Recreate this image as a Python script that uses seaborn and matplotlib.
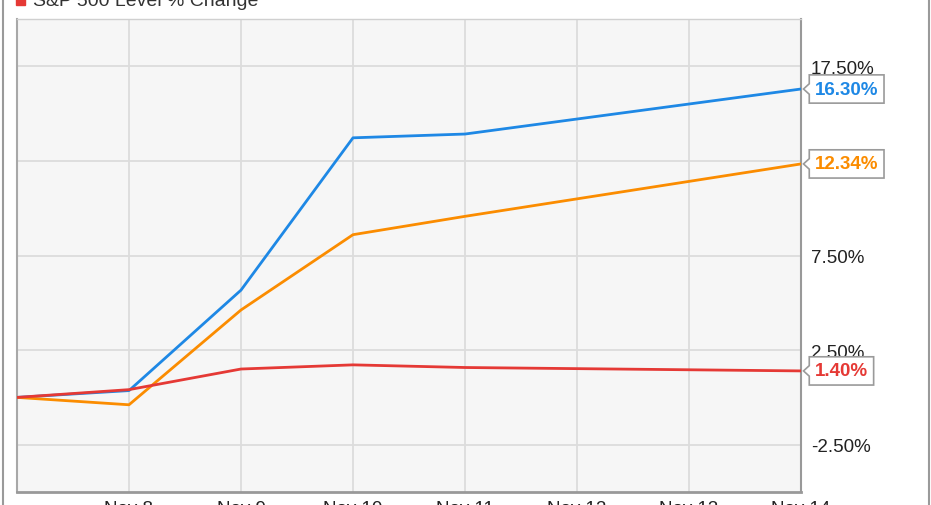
import numpy as np
import pandas as pd
import matplotlib
matplotlib.use("Agg")
import matplotlib.pyplot as plt
import matplotlib.dates as mdates
from matplotlib.path import Path
from matplotlib.patches import Rectangle
from matplotlib.lines import Line2D
import seaborn as sns

# ===== data (trading days only, weekend is interpolated) =====
dates = ["2016-11-07", "2016-11-08", "2016-11-09", "2016-11-10", "2016-11-11", "2016-11-14"]
series_names = ["Stock A Price % Change", "Stock B Price % Change", "S&P 500 Level % Change"]
blue_vals = [0.0, 0.36, 5.67, 13.72, 13.92, 16.30]
orange_vals = [0.0, -0.39, 4.62, 8.60, 9.57, 12.34]
red_vals = [0.0, 0.41, 1.50, 1.72, 1.58, 1.40]
colors = ["#1e88e5", "#fb8c00", "#e53935"]

yticks = [-2.5, 7.5, 2.5, 17.5]
ygrid = [-2.5, 2.5, 7.5, 12.5, 17.5]
xtick_days = pd.date_range("2016-11-08", "2016-11-14", freq="D")

df = pd.DataFrame({
    "date": pd.to_datetime(dates * 3),
    "value": blue_vals + orange_vals + red_vals,
    "series": np.repeat(series_names, len(dates)),
})

sns.set_style("white")
plt.rcParams["font.family"] = ["Liberation Sans", "DejaVu Sans"]

fig = plt.figure(figsize=(9.31, 5.06), dpi=100)
ax = fig.add_axes([17 / 931, 1 - 493 / 506, 784 / 931, 473 / 506])
ax.set_facecolor("#f6f6f6")

sns.lineplot(data=df, x="date", y="value", hue="series", palette=colors,
             linewidth=2, legend=False, ax=ax, zorder=3)

ax.set_xlim(pd.Timestamp("2016-11-07"), pd.Timestamp("2016-11-14"))
ax.set_ylim(-5, 20)

# grid
for d in pd.date_range("2016-11-07", "2016-11-14", freq="D"):
    ax.axvline(d, color="#dcdcdc", lw=1.3, zorder=1)
for g in ygrid:
    ax.axhline(g, color="#dcdcdc", lw=1.3, zorder=1)

ax.set_xticks(xtick_days)
ax.xaxis.set_major_formatter(mdates.DateFormatter("%b %-d"))
ax.tick_params(axis="x", length=0, pad=6, labelsize=13.5, labelcolor="#222222")

ax.yaxis.tick_right()
ax.set_yticks(yticks)
ax.set_yticklabels([f"{v:.2f}%" for v in yticks])
ax.tick_params(axis="y", length=0, pad=7, labelsize=13.5, labelcolor="#222222")
ax.set_xlabel("")
ax.set_ylabel("")

ax.spines["top"].set_color("#d0d0d0")
ax.spines["top"].set_linewidth(1)
ax.spines["left"].set_color("#a8a8a8")
ax.spines["left"].set_linewidth(1.5)
ax.spines["bottom"].set_color("#999999")
ax.spines["bottom"].set_linewidth(2)
ax.spines["right"].set_color("#999999")
ax.spines["right"].set_linewidth(1.5)


def tag_box(x0, y0, width, height, mutation_size):
    pad = 0.3 * mutation_size
    x0, y0 = x0 - pad, y0 - pad
    x1, y1 = x0 + width + 2 * pad, y0 + height + 2 * pad
    cy = (y0 + y1) / 2
    n = 0.28 * mutation_size
    verts = [(x0, y0), (x1, y0), (x1, y1), (x0, y1), (x0, cy + n),
             (x0 - n * 1.1, cy), (x0, cy - n), (x0, y0)]
    return Path(verts, closed=True)


last_date = pd.Timestamp(dates[-1])
for vals, c in zip([blue_vals, orange_vals, red_vals], colors):
    ax.annotate(f"{vals[-1]:.2f}%", xy=(last_date, vals[-1]), xytext=(10, 0),
                textcoords="offset points", ha="left", va="center",
                fontsize=13.5, fontweight="bold", color=c, zorder=5,
                annotation_clip=False,
                bbox=dict(boxstyle=tag_box, fc="white", ec="#9a9a9a", lw=1.2))

# legend (mostly cut off at the top of the picture)
fig.patches.append(Rectangle((16 / 931, 1 - 6 / 506), 9 / 931, 12 / 506,
                             transform=fig.transFigure, color=colors[2]))
fig.text(33 / 931, 1 - 6 / 506, series_names[2], fontsize=14, color="#333333",
         ha="left", va="baseline")

# outer frame
fig.add_artist(Line2D([2.5 / 931, 2.5 / 931], [0, 1], color="#9a9a9a", lw=1.5,
                      transform=fig.transFigure))
fig.add_artist(Line2D([929 / 931, 929 / 931], [0, 1], color="#9a9a9a", lw=1.5,
                      transform=fig.transFigure))

fig.savefig("out.png", dpi=100)
